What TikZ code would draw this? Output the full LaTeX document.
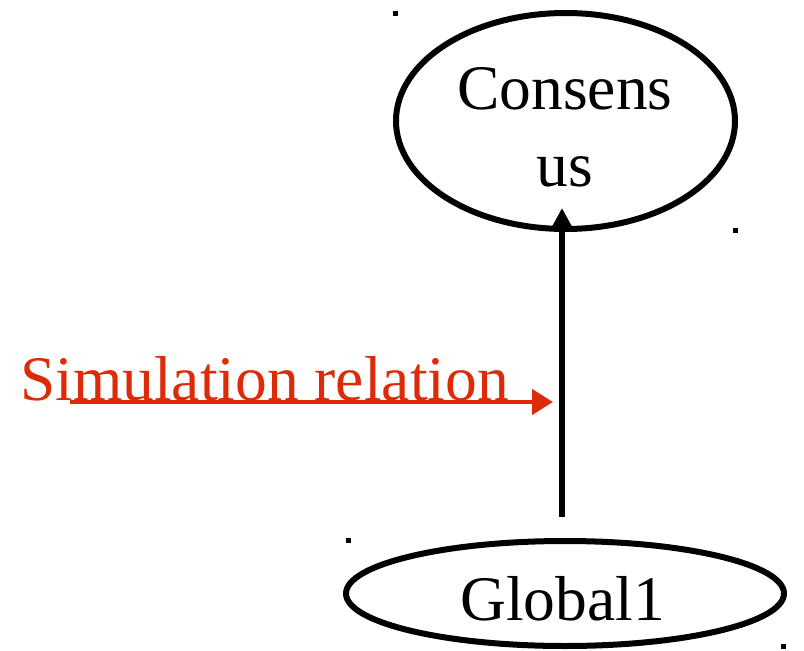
\documentclass[tikz,border=0pt]{standalone}
\usepackage{fontspec}
\setmainfont{Liberation Serif}
\usetikzlibrary{shapes.geometric,arrows.meta,calc}
\definecolor{relred}{RGB}{221,43,9}
\begin{document}
\begin{tikzpicture}[x=1pt,y=-1pt,
  state/.style={draw=black,line width=6pt,ellipse,inner sep=0pt},
  txt/.style={font=\fontsize{63.5}{63.5}\selectfont,inner sep=0pt,anchor=base},
  marker/.style={fill=black,rectangle,minimum size=5pt,inner sep=0pt},
  flow/.style={draw=black,line width=6pt,-{Triangle[length=20pt,width=20pt]}},
  relation/.style={draw=relred,line width=4.5pt,-{Triangle[length=21pt,width=25pt]}}]
\useasboundingbox (0,0) rectangle (804,651);

% states
\node[state,minimum width=339pt,minimum height=216pt] (cons) at (565.5,121) {};
\node[state,minimum width=438pt,minimum height=105pt] (glob) at (565,593.5) {};

% state names
\node[txt] (consA) at (565,109) {Consens};
\node[txt] (consB) at (565,186) {us};
\node[txt] (globA) at (562.5,620) {Global1};

% corner markers
\node[marker] (m1) at (395.5,13) {};
\node[marker] (m2) at (735,230) {};
\node[marker] (m3) at (348.5,540) {};
\node[marker] (m4) at (783,646) {};

% refinement arrow
\coordinate (up0) at ($(glob.north)+(-3,-21)$);
\coordinate (up1) at ($(cons.south)+(-3.5,-24)$);
\draw[flow] (up0) -- (up1);

% simulation relation label and pointer
\node[txt,anchor=base west,text=relred] (sim) at (20,400) {Simulation relation};
\coordinate (r0) at (70,402);
\coordinate (r1) at ($(up0|-r0)+(-9,0)$);
\draw[relation] (r0) -- (r1);
\end{tikzpicture}
\end{document}
